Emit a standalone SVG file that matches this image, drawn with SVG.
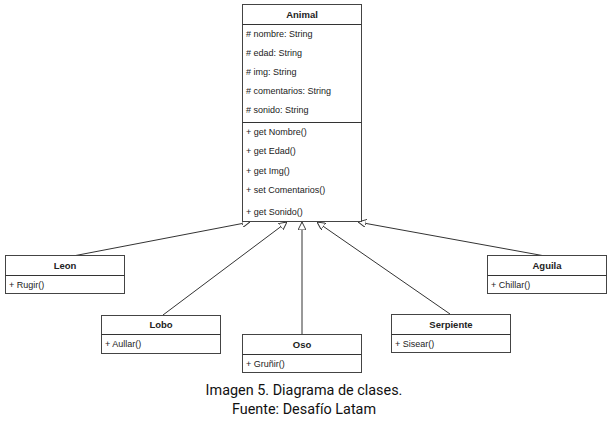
<svg xmlns="http://www.w3.org/2000/svg" width="613" height="422" viewBox="0 0 613 422">
<style>
.box{fill:#fff;stroke:#444;stroke-width:1}
.t{font-family:"Liberation Sans",Arial,sans-serif;font-size:9px;fill:#222}
.h{font-family:"Liberation Sans",Arial,sans-serif;font-size:9.5px;font-weight:bold;fill:#222;text-anchor:middle}
.c{font-family:Roboto,"Liberation Sans",sans-serif;font-size:14.4px;fill:#111;text-anchor:middle}
.e{stroke:#333;stroke-width:1;fill:none}
</style>
<defs>
<marker id="tri" viewBox="0 0 10 10" refX="10" refY="5" markerWidth="8" markerHeight="8" markerUnits="userSpaceOnUse" orient="auto">
<path d="M0,0 L10,5 L0,10 Z" fill="#fff" stroke="#333" stroke-width="1.2"/>
</marker>
</defs>
<rect width="613" height="422" fill="#fff"/>
<g id="connectors">
<line class="e" x1="73" y1="256" x2="250" y2="222" marker-end="url(#tri)"/>
<line class="e" x1="163" y1="315" x2="287" y2="222" marker-end="url(#tri)"/>
<line class="e" x1="302" y1="334" x2="302" y2="222" marker-end="url(#tri)"/>
<line class="e" x1="450" y1="314" x2="317" y2="222" marker-end="url(#tri)"/>
<line class="e" x1="545" y1="256" x2="358" y2="222" marker-end="url(#tri)"/>
</g>
<g id="animal">
<rect class="box" x="242.5" y="4.5" width="119" height="217"/>
<line class="e" x1="242.5" y1="24.5" x2="361.5" y2="24.5"/>
<line class="e" x1="242.5" y1="122.5" x2="361.5" y2="122.5"/>
<text class="h" x="302" y="18">Animal</text>
<text class="t" x="246" y="37">#  nombre: String</text>
<text class="t" x="246" y="56">#  edad: String</text>
<text class="t" x="246" y="75">#  img: String</text>
<text class="t" x="246" y="94">#  comentarios: String</text>
<text class="t" x="246" y="113">#  sonido: String</text>
<text class="t" x="246" y="135">+ get Nombre()</text>
<text class="t" x="246" y="154">+ get Edad()</text>
<text class="t" x="246" y="174">+ get Img()</text>
<text class="t" x="246" y="193">+ set Comentarios()</text>
<text class="t" x="246" y="215">+ get Sonido()</text>
</g>
<g id="leon">
<rect class="box" x="5.5" y="255.5" width="119" height="38"/>
<line class="e" x1="5.5" y1="275.5" x2="124.5" y2="275.5"/>
<text class="h" x="65" y="269">Leon</text>
<text class="t" x="9" y="288">+ Rugir()</text>
</g>
<g id="lobo">
<rect class="box" x="101.5" y="315.5" width="119" height="38"/>
<line class="e" x1="101.5" y1="334.5" x2="220.5" y2="334.5"/>
<text class="h" x="161" y="328">Lobo</text>
<text class="t" x="105" y="347">+ Aullar()</text>
</g>
<g id="oso">
<rect class="box" x="242.5" y="334.5" width="119" height="38"/>
<line class="e" x1="242.5" y1="354.5" x2="361.5" y2="354.5"/>
<text class="h" x="302" y="348">Oso</text>
<text class="t" x="246" y="367">+ Gruñir()</text>
</g>
<g id="serpiente">
<rect class="box" x="391.5" y="314.5" width="119" height="38"/>
<line class="e" x1="391.5" y1="334.5" x2="510.5" y2="334.5"/>
<text class="h" x="451" y="328">Serpiente</text>
<text class="t" x="395" y="347">+ Sisear()</text>
</g>
<g id="aguila">
<rect class="box" x="487.5" y="255.5" width="119" height="38"/>
<line class="e" x1="487.5" y1="275.5" x2="606.5" y2="275.5"/>
<text class="h" x="547" y="269">Aguila</text>
<text class="t" x="491" y="288">+ Chillar()</text>
</g>
<g id="caption">
<text class="c" x="304" y="395">Imagen 5. Diagrama de clases.</text>
<text class="c" x="304" y="414">Fuente: Desafío Latam</text>
</g>
</svg>
